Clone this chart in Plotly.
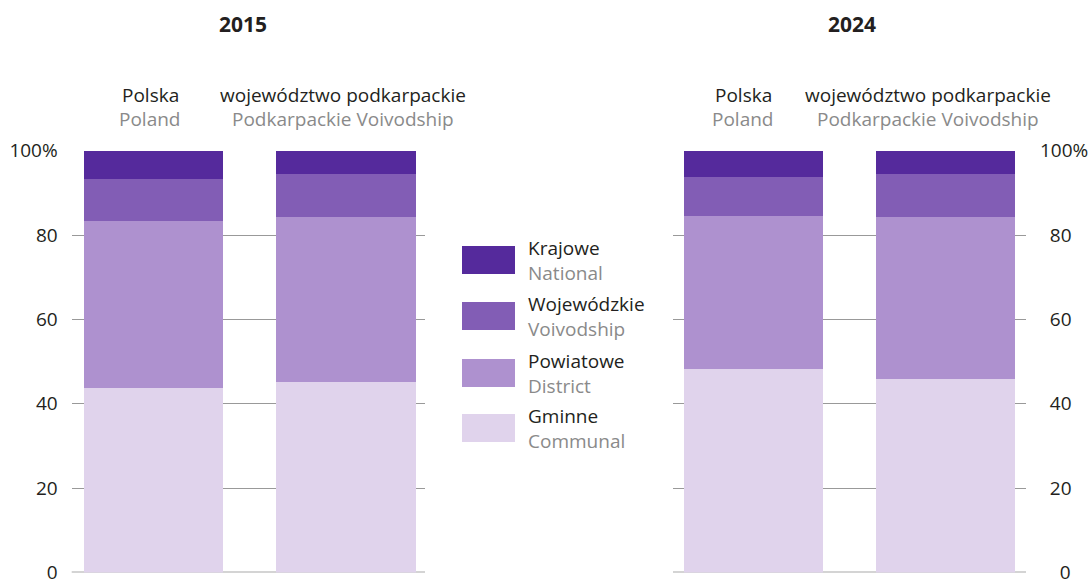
import plotly.graph_objects as go

# ---- data ----
years = ["2015", "2024"]
regions_pl = ["Polska", "województwo podkarpackie"]
regions_en = ["Poland", "Podkarpackie Voivodship"]
series_pl = ["Gminne", "Powiatowe", "Wojewódzkie", "Krajowe"]
series_en = ["Communal", "District", "Voivodship", "National"]
colors = ["#e0d3ec", "#ae91cf", "#825db5", "#552a9c"]

# shares (%) per year, per region [Polska, podkarpackie]
gminne_2015 = [43.8, 45.2]
powiatowe_2015 = [39.6, 39.1]
wojewodzkie_2015 = [10.0, 10.2]
krajowe_2015 = [6.6, 5.5]

gminne_2024 = [48.3, 45.9]
powiatowe_2024 = [36.3, 38.4]
wojewodzkie_2024 = [9.2, 10.2]
krajowe_2024 = [6.2, 5.5]

tick_vals = [0, 20, 40, 60, 80, 100]
tick_text_left = ["0", "20", "40", "60", "80", "100%"]
tick_text_right = ["\u00a0\u00a0\u00a0\u00a00", "\u00a0\u00a020", "\u00a0\u00a040", "\u00a0\u00a060", "\u00a0\u00a080", "100%"]

data_by_year = {
    "2015": [gminne_2015, powiatowe_2015, wojewodzkie_2015, krajowe_2015],
    "2024": [gminne_2024, powiatowe_2024, wojewodzkie_2024, krajowe_2024],
}

FONT = "Open Sans"
DARK = "#231f20"
GRAY = "#8a8a8a"
W, H = 1089, 579
FS = 19

fig = go.Figure()
xpos = [0, 1]
for yi, yr in enumerate(years):
    xa = "x" if yi == 0 else "x2"
    ya = "y" if yi == 0 else "y2"
    for si, vals in enumerate(data_by_year[yr]):
        fig.add_trace(go.Bar(
            x=xpos, y=vals, width=0.724,
            marker=dict(color=colors[si], line=dict(width=0)),
            name=series_pl[si], showlegend=False,
            xaxis=xa, yaxis=ya, hoverinfo="y+name",
        ))

ydom = [1 - 572.5 / H, 1 - 150.7 / H]
grid = "#999999"
fig.update_layout(
    width=W, height=H,
    margin=dict(l=0, r=0, t=0, b=0),
    paper_bgcolor="white", plot_bgcolor="white",
    barmode="stack", bargap=0,
    font=dict(family=FONT, size=FS, color=DARK),
    showlegend=False,
    xaxis=dict(domain=[71.7 / W, 425 / W], range=[-0.426, 1.4125], visible=False),
    xaxis2=dict(domain=[673 / W, 1026 / W], range=[-0.419, 1.419], visible=False),
    yaxis=dict(domain=ydom, range=[0, 100], tickvals=tick_vals, ticktext=tick_text_left,
               showgrid=True, gridcolor=grid, gridwidth=1, zeroline=False, showline=False,
               ticks="", ticklabelstandoff=13, automargin=False, ticklabeloverflow="allow",
               tickfont=dict(family=FONT, size=FS, color=DARK)),
    yaxis2=dict(domain=ydom, range=[0, 100], anchor="x2", side="right",
                tickvals=tick_vals, ticktext=tick_text_right,
                showgrid=True, gridcolor=grid, gridwidth=1, zeroline=False, showline=False,
                ticks="", ticklabelstandoff=13, automargin=False, ticklabeloverflow="allow",
                tickfont=dict(family=FONT, size=FS, color=DARK)),
)

ann = []
shapes = []
# baselines at 0 (below bars)
for xr, yr_ in [("x domain", "y"), ("x2 domain", "y2")]:
    shapes.append(dict(type="line", xref=xr, x0=0, x1=1, yref=yr_, y0=0, y1=0,
                       line=dict(color="#aaaaaa", width=2), layer="below"))
# titles
for yi, tx in enumerate([243, 852]):
    ann.append(dict(x=tx / W, y=1 - 24 / H, xref="paper", yref="paper", text="<b>" + years[yi] + "</b>",
                    showarrow=False, font=dict(size=21, color=DARK), xanchor="center", yanchor="middle"))
# category labels
label_x = [[150, 343], [743, 927.5]]
for yi in range(2):
    for ri in range(2):
        ann.append(dict(x=label_x[yi][ri] / W, y=1 - 95 / H, xref="paper", yref="paper",
                        text=regions_pl[ri], showarrow=False, font=dict(size=FS, color=DARK),
                        xanchor="center", yanchor="middle"))
        ann.append(dict(x=label_x[yi][ri] / W, y=1 - 119 / H, xref="paper", yref="paper",
                        text=regions_en[ri], showarrow=False, font=dict(size=FS, color=GRAY),
                        xanchor="center", yanchor="middle"))

# legend (top-to-bottom: Krajowe ... Gminne)
sw_top = [246, 302, 359, 414]
order = [3, 2, 1, 0]
for k, si in enumerate(order):
    t = sw_top[k]
    shapes.append(dict(type="rect", xref="paper", yref="paper",
                       x0=462 / W, x1=515 / W, y0=1 - (t + 28) / H, y1=1 - t / H,
                       fillcolor=colors[si], line=dict(width=0)))
    ann.append(dict(x=526 / W, y=1 - (t + 2) / H, xref="paper", yref="paper", text=series_pl[si],
                    showarrow=False, font=dict(size=FS, color=DARK), xanchor="left", yanchor="middle"))
    ann.append(dict(x=526 / W, y=1 - (t + 27) / H, xref="paper", yref="paper", text=series_en[si],
                    showarrow=False, font=dict(size=FS, color=GRAY), xanchor="left", yanchor="middle"))

fig.update_layout(annotations=ann, shapes=shapes)
fig.write_html("out.html", config={"displayModeBar": False},
               post_script="document.body.style.margin='0';document.body.style.overflow='hidden';")
